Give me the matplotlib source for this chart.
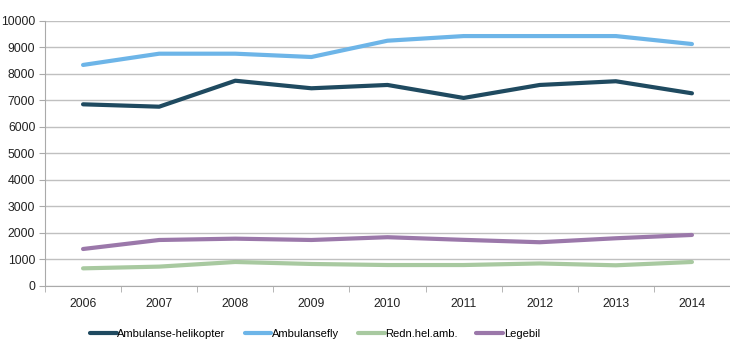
import matplotlib
matplotlib.use("Agg")
import matplotlib.pyplot as plt
import numpy as np

years = ["2006", "2007", "2008", "2009", "2010", "2011", "2012", "2013", "2014"]
heli = [6845, 6755, 7735, 7450, 7575, 7085, 7575, 7715, 7260]
fly = [8330, 8755, 8755, 8630, 9245, 9420, 9420, 9420, 9120]
redn = [655, 720, 895, 820, 780, 780, 840, 770, 895]
legebil = [1385, 1725, 1775, 1725, 1830, 1730, 1640, 1790, 1915]

series = [
    ("Ambulanse-helikopter", heli, "#1f4a60"),
    ("Ambulansefly", fly, "#6db5e8"),
    ("Redn.hel.amb.", redn, "#a8c9a0"),
    ("Legebil", legebil, "#9b78aa"),
]

plt.rcParams['font.family'] = ['Liberation Sans', 'DejaVu Sans']
fig = plt.figure(figsize=(7.30, 3.57), dpi=100)
ax = fig.add_axes([45/730, 1-285.7/357, (730-45)/730, (285.7-20.7)/357])

x = np.arange(len(years))
for name, vals, col in series:
    ax.plot(x, vals, color=col, lw=3, label=name, solid_capstyle='round')

ax.set_xlim(-0.5, len(years) - 0.5)
ax.set_ylim(0, 10000)
ax.set_yticks(np.arange(0, 10001, 1000))
ax.set_xticks(x)
ax.set_xticklabels(years)
ax.set_xticks(np.arange(-0.5, len(years), 1), minor=True)
ax.tick_params(axis='x', which='major', length=0, pad=9, labelsize=8.8, colors='#222222')
ax.tick_params(axis='x', which='minor', length=4, color='#aaaaaa')
ax.tick_params(axis='y', length=4, color='#aaaaaa', labelsize=8.8, labelcolor='#222222', pad=3)
ax.grid(axis='y', color='#c0c0c0', lw=1)
ax.set_axisbelow(True)
for s in ['top', 'right']:
    ax.spines[s].set_visible(False)
ax.spines['left'].set_color('#aaaaaa')
ax.spines['bottom'].set_color('#aaaaaa')

fig.legend(loc='center', bbox_to_anchor=(315/730, 1-334/357), ncol=4, frameon=False,
           fontsize=8, handlelength=2.4, handletextpad=0.05, columnspacing=1.7)

fig.savefig("out.png", dpi=100)
